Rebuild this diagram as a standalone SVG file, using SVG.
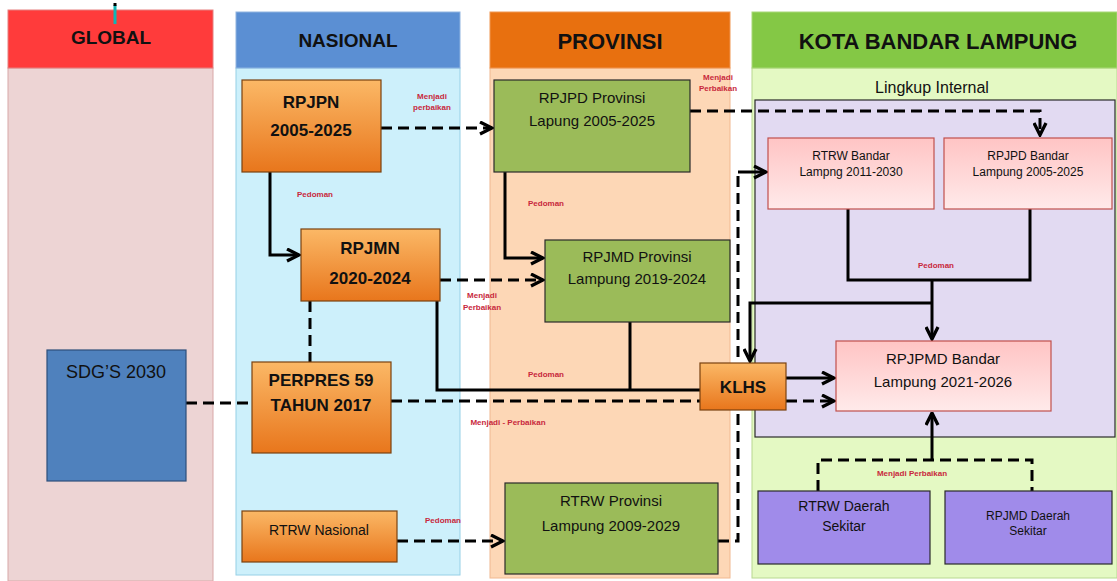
<svg xmlns="http://www.w3.org/2000/svg" width="1117" height="581" viewBox="0 0 1117 581">
  <defs>
    <linearGradient id="gOrange" x1="0" y1="0" x2="0" y2="1">
      <stop offset="0" stop-color="#FBB866"/>
      <stop offset="1" stop-color="#E8761C"/>
    </linearGradient>
    <linearGradient id="gPink" x1="0" y1="0" x2="0" y2="1">
      <stop offset="0" stop-color="#FFC4C4"/>
      <stop offset="1" stop-color="#FFEAEA"/>
    </linearGradient>
    <marker id="arr" viewBox="0 0 10 10" refX="9" refY="5" markerWidth="5" markerHeight="5" orient="auto">
      <path d="M1,1 L9,5 L1,9" fill="none" stroke="#000" stroke-width="2.2"/>
    </marker>
    <style>
      text { font-family: "Liberation Sans", Arial, sans-serif; fill: #111; }
      .hdr { font-weight: bold; text-anchor: middle; }
      .orange { fill: url(#gOrange); stroke: #7A4210; stroke-width: 1.2; }
      .green { fill: #9BBB59; stroke: #2A2A2A; stroke-width: 1.2; }
      .pink { fill: url(#gPink); stroke: #C0504D; stroke-width: 1.2; }
      .purple { fill: #A08BEA; stroke: #2A2A2A; stroke-width: 1.2; }
      .big { font-size: 17px; font-weight: bold; text-anchor: middle; }
      .mid { font-size: 15px; text-anchor: middle; }
      .sm { font-size: 12px; text-anchor: middle; }
      .lbl { font-size: 8px; fill: #C8283C; text-anchor: middle; font-weight: bold; }
      .solid { fill: none; stroke: #000; stroke-width: 3; }
      .dash { fill: none; stroke: #000; stroke-width: 3; stroke-dasharray: 11 6; }
    </style>
  </defs>

  <rect width="1117" height="581" fill="#FFFFFF"/>

  <!-- column panels -->
  <g id="col-global">
    <rect x="8" y="68" width="205" height="513" fill="#EDD4D4" stroke="#D8A8A8"/>
    <rect x="8" y="10" width="205" height="58" fill="#FF3B3B" stroke="#E58080"/>
    <text class="hdr" x="111" y="44" font-size="19">GLOBAL</text>
    <line x1="115" y1="5" x2="115" y2="24" stroke="#12B5B5" stroke-width="3"/>
    <rect x="113.5" y="3" width="3" height="3" fill="#000"/>
  </g>
  <g id="col-nasional">
    <rect x="236" y="68" width="224" height="507" fill="#CDF0FB" stroke="#96D0E6"/>
    <rect x="236" y="12" width="224" height="56" fill="#5B8FD3" stroke="#8FB3E0"/>
    <text class="hdr" x="348" y="47" font-size="19">NASIONAL</text>
  </g>
  <g id="col-provinsi">
    <rect x="490" y="68" width="240" height="510" fill="#FDD7B6" stroke="#F0B890"/>
    <rect x="490" y="12" width="240" height="56" fill="#E8700F" stroke="#F09550"/>
    <text class="hdr" x="610" y="49" font-size="22">PROVINSI</text>
  </g>
  <g id="col-kota">
    <rect x="752" y="68" width="365" height="510" fill="#E4F9C3" stroke="#B8D890"/>
    <rect x="752" y="12" width="365" height="56" fill="#84C845" stroke="#A8D878"/>
    <text class="hdr" x="938" y="49" font-size="22">KOTA BANDAR LAMPUNG</text>
    <text x="932" y="93" font-size="16" text-anchor="middle">Lingkup Internal</text>
    <rect x="755" y="100" width="360" height="337" fill="#E2DAF2" stroke="#2A2A2A" stroke-width="1.2"/>
  </g>

  <!-- connectors -->
  <g id="connectors">
    <!-- RPJPN -> RPJPD Provinsi -->
    <path class="dash" d="M381,128 H492" marker-end="url(#arr)"/>
    <text class="lbl" x="432" y="99">Menjadi</text>
    <text class="lbl" x="432" y="110">perbaikan</text>
    <!-- RPJPD Provinsi -> RPJPD Bandar -->
    <path class="dash" d="M690,111 H1040 V135" marker-end="url(#arr)"/>
    <text class="lbl" x="718" y="80">Menjadi</text>
    <text class="lbl" x="718" y="91">Perbaikan</text>
    <!-- RPJPN -> RPJMN -->
    <path class="solid" d="M270,172 V255 H299" marker-end="url(#arr)"/>
    <text class="lbl" x="315" y="197">Pedoman</text>
    <!-- RPJPD Provinsi -> RPJMD Provinsi -->
    <path class="solid" d="M505,172 V258 H543" marker-end="url(#arr)"/>
    <text class="lbl" x="546" y="206">Pedoman</text>
    <!-- RPJMN -> RPJMD Provinsi -->
    <path class="dash" d="M440,280 H543" marker-end="url(#arr)"/>
    <text class="lbl" x="482" y="298">Menjadi</text>
    <text class="lbl" x="482" y="310">Perbaikan</text>
    <!-- RPJMN - PERPRES -->
    <path class="dash" d="M310,301 V362"/>
    <!-- RPJMN / RPJMD Provinsi -> KLHS -->
    <path class="solid" d="M437,301 V390 H700"/>
    <path class="solid" d="M630,322 V390"/>
    <text class="lbl" x="546" y="377">Pedoman</text>
    <!-- SDG's -> PERPRES -->
    <path class="dash" d="M186,403 H252"/>
    <!-- PERPRES -> RPJPMD -->
    <path class="dash" d="M391,401 H700"/>
    <path class="dash" d="M786,401 H834" marker-end="url(#arr)"/>
    <text class="lbl" x="508" y="425">Menjadi - Perbaikan</text>
    <!-- KLHS -> RPJPMD -->
    <path class="solid" d="M786,378 H834" marker-end="url(#arr)"/>
    <!-- RTRW Nasional -> RTRW Provinsi -->
    <path class="dash" d="M397,541 H503" marker-end="url(#arr)"/>
    <text class="lbl" x="443" y="523">Pedoman</text>
    <!-- RTRW Provinsi -> RTRW Bandar -->
    <path class="dash" d="M718,541 H738 V172"/>
    <path class="solid" d="M738,172 H766" marker-end="url(#arr)"/>
    <!-- RTRW Bandar & RPJPD Bandar -> RPJPMD -->
    <path class="solid" d="M848,209 V280 H1030 V209"/>
    <path class="solid" d="M932,280 V339" marker-end="url(#arr)"/>
    <text class="lbl" x="936" y="268">Pedoman</text>
    <path class="solid" d="M932,303 H750 V361" marker-end="url(#arr)"/>
    <!-- Daerah Sekitar -> RPJPMD -->
    <path class="dash" d="M818,491 V460 H1032 V491"/>
    <path class="solid" d="M932,460 V413" marker-end="url(#arr)"/>
    <text class="lbl" x="912" y="476">Menjadi Perbaikan</text>
  </g>

  <!-- nodes -->
  <g id="sdgs">
    <rect x="47" y="350" width="139" height="131" fill="#4F81BD" stroke="#2E4F7A" stroke-width="1.2"/>
    <text x="116" y="378" font-size="18" text-anchor="middle">SDG’S 2030</text>
  </g>
  <g id="rpjpn">
    <rect class="orange" x="242" y="80" width="139" height="92"/>
    <text class="big" x="311" y="108">RPJPN</text>
    <text class="big" x="311" y="136">2005-2025</text>
  </g>
  <g id="rpjmn">
    <rect class="orange" x="301" y="229" width="139" height="72"/>
    <text class="big" x="370" y="254">RPJMN</text>
    <text class="big" x="370" y="284">2020-2024</text>
  </g>
  <g id="perpres">
    <rect class="orange" x="252" y="362" width="139" height="91"/>
    <text class="big" x="321" y="386">PERPRES 59</text>
    <text class="big" x="321" y="411">TAHUN 2017</text>
  </g>
  <g id="rtrw-nasional">
    <rect class="orange" x="242" y="511" width="155" height="51"/>
    <text x="319" y="535" font-size="14" text-anchor="middle">RTRW Nasional</text>
  </g>
  <g id="rpjpd-provinsi">
    <rect class="green" x="494" y="80" width="196" height="92"/>
    <text class="mid" x="592" y="103" font-size="16">RPJPD Provinsi</text>
    <text class="mid" x="592" y="126" font-size="16">Lapung 2005-2025</text>
  </g>
  <g id="rpjmd-provinsi">
    <rect class="green" x="545" y="240" width="185" height="82"/>
    <text class="mid" x="637" y="262" font-size="14">RPJMD Provinsi</text>
    <text class="mid" x="637" y="284" font-size="14">Lampung 2019-2024</text>
  </g>
  <g id="rtrw-provinsi">
    <rect class="green" x="505" y="483" width="213" height="91"/>
    <text class="mid" x="611" y="506" font-size="16">RTRW Provinsi</text>
    <text class="mid" x="611" y="531" font-size="16">Lampung 2009-2029</text>
  </g>
  <g id="klhs">
    <rect class="orange" x="700" y="363" width="86" height="47"/>
    <text class="big" x="743" y="393" font-size="18">KLHS</text>
  </g>
  <g id="rtrw-bandar">
    <rect class="pink" x="768" y="138" width="166" height="71"/>
    <text class="sm" x="851" y="160">RTRW  Bandar</text>
    <text class="sm" x="851" y="176">Lampng  2011-2030</text>
  </g>
  <g id="rpjpd-bandar">
    <rect class="pink" x="944" y="138" width="168" height="71"/>
    <text class="sm" x="1028" y="160">RPJPD Bandar</text>
    <text class="sm" x="1028" y="176">Lampung   2005-2025</text>
  </g>
  <g id="rpjpmd-bandar">
    <rect class="pink" x="836" y="341" width="215" height="70"/>
    <text class="mid" x="943" y="364" font-size="17">RPJPMD Bandar</text>
    <text class="mid" x="943" y="387" font-size="17">Lampung 2021-2026</text>
  </g>
  <g id="rtrw-sekitar">
    <rect class="purple" x="758" y="491" width="172" height="73"/>
    <text x="844" y="511" font-size="14" text-anchor="middle">RTRW Daerah</text>
    <text x="844" y="531" font-size="14" text-anchor="middle">Sekitar</text>
  </g>
  <g id="rpjmd-sekitar">
    <rect class="purple" x="945" y="491" width="167" height="73"/>
    <text x="1028" y="520" font-size="12" text-anchor="middle">RPJMD Daerah</text>
    <text x="1028" y="535" font-size="12" text-anchor="middle">Sekitar</text>
  </g>
</svg>
